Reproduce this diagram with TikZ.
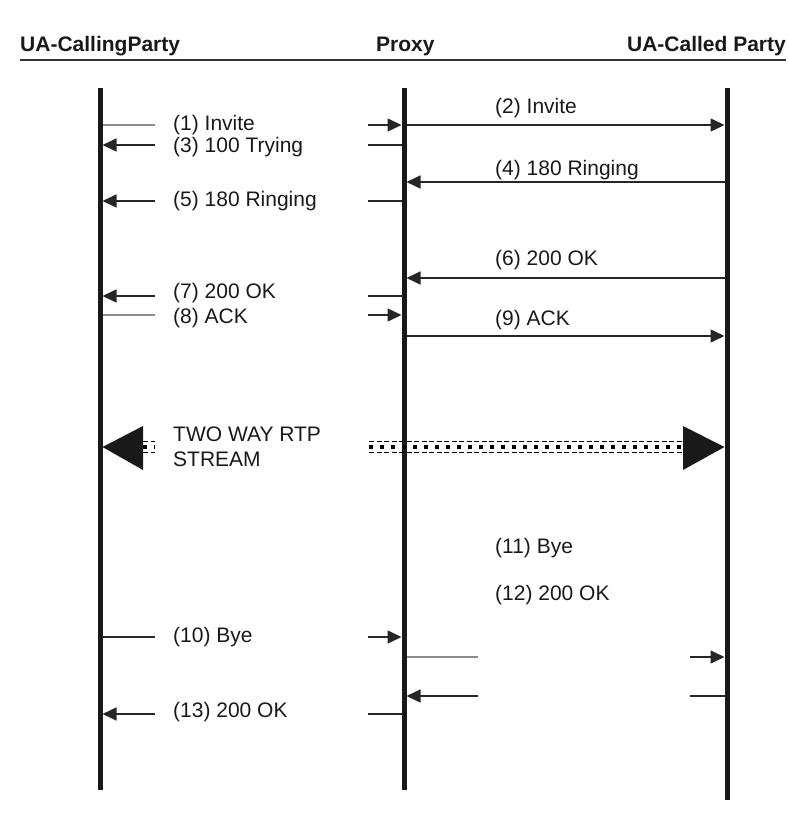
\documentclass[tikz,border=0pt]{standalone}
\usepackage{fontspec}
\setmainfont{Liberation Sans}
\usetikzlibrary{arrows.meta}
\begin{document}
\begin{tikzpicture}[x=1pt,y=-1pt,
  life/.style={line width=5pt,color=black!90},
  msg/.style={line width=1.5pt,color=black!85},
  gmsg/.style={line width=1.5pt,color=black!45},
  tip/.style={-{Triangle[length=14pt,width=13pt]}},
  lbl/.style={anchor=west,inner sep=0pt,font=\fontsize{21}{25}\selectfont,text=black!90},
  hdr/.style={inner sep=0pt,font=\fontsize{21}{25}\selectfont\bfseries,text=black!90},
  bigtri/.style={fill=black!90,draw=none},
  dashline/.style={line width=1.4pt,dash pattern=on 5pt off 2.5pt},
  dotline/.style={line width=4pt,dash pattern=on 4pt off 7pt}
]
\useasboundingbox (0,0) rectangle (788,816);
% headers
\node[hdr,anchor=west] (hA) at (20,46) {UA-CallingParty};
\node[hdr,anchor=west] (hP) at (376,46) {Proxy};
\node[hdr,anchor=east] (hC) at (786,46) {UA-Called Party};
\coordinate (ulL) at (20,60);
\coordinate (ulR) at (786,60);
\draw[line width=2pt,black!80] (ulL) -- (ulR);
% lifelines
\coordinate (A0) at (100,88); \coordinate (A1) at (100,790);
\coordinate (P0) at (404,88); \coordinate (P1) at (404,790);
\coordinate (C0) at (727,88); \coordinate (C1) at (727,800);
\draw[life] (A0) -- (A1);
\draw[life] (P0) -- (P1);
\draw[life] (C0) -- (C1);
% (1) Invite
\coordinate (m1a) at (102.5,125); \coordinate (m1b) at (155,125);
\coordinate (m1c) at (368,125); \coordinate (m1d) at (401.5,125);
\draw[gmsg] (m1a) -- (m1b);
\draw[msg,tip] (m1c) -- (m1d);
\node[lbl] (l1) at (173,125) {(1) Invite};
% (2) Invite
\coordinate (m2a) at (406.5,125); \coordinate (m2b) at (724.5,125);
\draw[msg,tip] (m2a) -- (m2b);
\node[lbl] (l2) at (495,108) {(2) Invite};
% (3) 100 Trying
\coordinate (m3a) at (155,145); \coordinate (m3b) at (102.5,145);
\coordinate (m3c) at (401.5,145); \coordinate (m3d) at (368,145);
\draw[msg,tip] (m3a) -- (m3b);
\draw[msg] (m3c) -- (m3d);
\node[lbl] (l3) at (173,147) {(3) 100 Trying};
% (4) 180 Ringing
\coordinate (m4a) at (724.5,182); \coordinate (m4b) at (406.5,182);
\draw[msg,tip] (m4a) -- (m4b);
\node[lbl] (l4) at (495,170) {(4) 180 Ringing};
% (5) 180 Ringing
\coordinate (m5a) at (155,201); \coordinate (m5b) at (102.5,201);
\coordinate (m5c) at (401.5,201); \coordinate (m5d) at (368,201);
\draw[msg,tip] (m5a) -- (m5b);
\draw[msg] (m5c) -- (m5d);
\node[lbl] (l5) at (173,201) {(5) 180 Ringing};
% (6) 200 OK
\coordinate (m6a) at (724.5,278); \coordinate (m6b) at (406.5,278);
\draw[msg,tip] (m6a) -- (m6b);
\node[lbl] (l6) at (495,260) {(6) 200 OK};
% (7) 200 OK
\coordinate (m7a) at (155,296); \coordinate (m7b) at (102.5,296);
\coordinate (m7c) at (401.5,296); \coordinate (m7d) at (368,296);
\draw[msg,tip] (m7a) -- (m7b);
\draw[msg] (m7c) -- (m7d);
\node[lbl] (l7) at (173,293) {(7) 200 OK};
% (8) ACK
\coordinate (m8a) at (102.5,315); \coordinate (m8b) at (155,315);
\coordinate (m8c) at (368,315); \coordinate (m8d) at (401.5,315);
\draw[gmsg] (m8a) -- (m8b);
\draw[msg,tip] (m8c) -- (m8d);
\node[lbl] (l8) at (173,318) {(8) ACK};
% (9) ACK
\coordinate (m9a) at (406.5,336); \coordinate (m9b) at (724.5,336);
\draw[msg,tip] (m9a) -- (m9b);
\node[lbl] (l9) at (495,320) {(9) ACK};
% RTP stream
\coordinate (rL) at (102.5,447); \coordinate (rR) at (724.5,447);
\fill[bigtri] (rL) -- (143,426) -- (143,470) -- cycle;
\fill[bigtri] (rR) -- (683,426) -- (683,470) -- cycle;
\coordinate (s1) at (143,447); \coordinate (s2) at (155,447);
\coordinate (s3) at (369,447); \coordinate (s4) at (683,447);
\foreach \a/\b in {s1/s2,s3/s4}{
  \draw[dashline] ([yshift=-5.5pt]\a) -- ([yshift=-5.5pt]\b);
  \draw[dashline] ([yshift=5.5pt]\a) -- ([yshift=5.5pt]\b);
  \draw[dotline] (\a) -- (\b);
}
\node[lbl,align=left] (lr) at (173,447) {TWO WAY RTP\\STREAM};
% (11), (12) labels
\node[lbl] (l11) at (495,548) {(11) Bye};
\node[lbl] (l12) at (495,595) {(12) 200 OK};
% (10) Bye
\coordinate (m10a) at (102.5,637); \coordinate (m10b) at (155,637);
\coordinate (m10c) at (368,637); \coordinate (m10d) at (401.5,637);
\draw[msg] (m10a) -- (m10b);
\draw[msg,tip] (m10c) -- (m10d);
\node[lbl] (l10) at (173,637) {(10) Bye};
% (11) Bye stubs
\coordinate (m11a) at (406.5,657); \coordinate (m11b) at (478,657);
\coordinate (m11c) at (690,657); \coordinate (m11d) at (724.5,657);
\draw[gmsg] (m11a) -- (m11b);
\draw[msg,tip] (m11c) -- (m11d);
% (12) 200 OK stubs
\coordinate (m12a) at (724.5,696); \coordinate (m12b) at (690,696);
\coordinate (m12c) at (478,696); \coordinate (m12d) at (406.5,696);
\draw[msg] (m12a) -- (m12b);
\draw[msg,tip] (m12c) -- (m12d);
% (13) 200 OK
\coordinate (m13a) at (155,714); \coordinate (m13b) at (102.5,714);
\coordinate (m13c) at (401.5,714); \coordinate (m13d) at (368,714);
\draw[msg,tip] (m13a) -- (m13b);
\draw[msg] (m13c) -- (m13d);
\node[lbl] (l13) at (173,712) {(13) 200 OK};
\end{tikzpicture}
\end{document}
